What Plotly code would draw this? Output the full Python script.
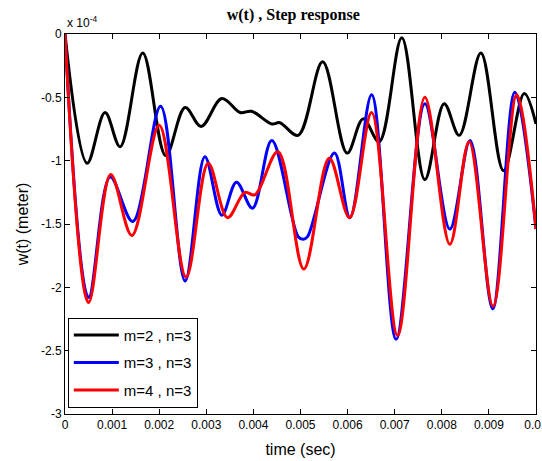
import plotly.graph_objects as go

# time in ms (converted to seconds below); values in units of 1e-4 m
t_m2 = [0, 0.47, 0.85, 1.17, 1.65, 2.14, 2.55, 2.89, 3.33, 3.72, 3.96, 4.39, 4.56, 4.95,
        5.47, 5.99, 6.33, 6.67, 7.15, 7.64, 8.05, 8.37, 8.83, 9.31, 9.75, 10.0]
w_m2 = [0, -1.02, -0.62, -0.89, -0.15, -0.96, -0.58, -0.73, -0.51, -0.62, -0.61, -0.71, -0.70, -0.80,
        -0.22, -0.94, -0.67, -0.85, -0.03, -1.15, -0.55, -0.80, -0.15, -1.08, -0.47, -0.71]

t_m3 = [0, 0.50, 0.96, 1.44, 2.03, 2.55, 2.97, 3.33, 3.64, 3.98, 4.39, 4.95, 5.06, 5.15,
        5.72, 6.05, 6.51, 7.03, 7.64, 8.17, 8.60, 9.08, 9.55, 10.0]
w_m3 = [0, -2.08, -1.13, -1.48, -0.57, -1.95, -0.97, -1.43, -1.17, -1.375, -0.84, -1.60, -1.62, -1.60,
        -0.94, -1.45, -0.48, -2.41, -0.55, -1.54, -0.84, -2.17, -0.46, -1.54]

t_m4 = [0, 0.50, 0.97, 1.42, 2.00, 2.57, 3.04, 3.45, 3.82, 4.03, 4.52, 5.07, 5.61, 6.04,
        6.51, 7.06, 7.64, 8.17, 8.58, 9.09, 9.59, 10.0]
w_m4 = [0, -2.12, -1.11, -1.59, -0.72, -1.92, -1.02, -1.45, -1.25, -1.27, -0.93, -1.855, -0.98, -1.45,
        -0.62, -2.38, -0.50, -1.66, -0.85, -2.15, -0.48, -1.54]

x_ticks = [0, 0.001, 0.002, 0.003, 0.004, 0.005, 0.006, 0.007, 0.008, 0.009, 0.01]
x_labels = ["0", "0.001", "0.002", "0.003", "0.004", "0.005", "0.006", "0.007", "0.008", "0.009", "0.01"]
y_ticks = [0, -0.5, -1, -1.5, -2, -2.5, -3]
y_labels = ["0", "-0.5", "-1", "-1.5", "-2", "-2.5", "-3"]

series = [
    ("m=2 , n=3", t_m2, w_m2, "#000000"),
    ("m=3 , n=3", t_m3, w_m3, "#0000ff"),
    ("m=4 , n=3", t_m4, w_m4, "#ff0000"),
]

fig = go.Figure()
for i, (name, t, w, c) in enumerate(series):
    fig.add_trace(go.Scatter(
        x=[v / 1000 for v in t], y=w, mode="lines", name=name, legendgroup=f"g{i}",
        line=dict(color=c, width=3, shape="spline", smoothing=1.0),
    ))

axis_common = dict(
    showgrid=False, zeroline=False, showline=True, linecolor="black", linewidth=1,
    mirror="ticks", ticks="inside", ticklen=5, tickcolor="black",
    tickfont=dict(family="Liberation Sans, Arial", size=12, color="black"),
    ticklabeloverflow="allow", automargin=False,
)

fig.update_layout(
    width=542, height=461,
    margin=dict(l=65, r=6, t=34, b=47),
    paper_bgcolor="white", plot_bgcolor="white",
    xaxis=dict(range=[0, 0.01], tickvals=x_ticks, ticktext=x_labels,
               title=dict(text="time (sec)", font=dict(family="Liberation Sans, Arial", size=16, color="black"),
                          standoff=12),
               **axis_common),
    yaxis=dict(range=[-3, 0], tickvals=y_ticks, ticktext=y_labels,
               title=dict(text="w(t) (meter)", font=dict(family="Liberation Sans, Arial", size=16, color="black"),
                          standoff=8),
               **axis_common),
    title=dict(text="<b>w(t) , Step response</b>", x=0.541, xanchor="center", y=0.968, yanchor="middle",
               font=dict(family="Liberation Serif, Times New Roman", size=16, color="black")),
    legend=dict(x=0.006, y=0.253, xanchor="left", yanchor="top",
                bgcolor="white", bordercolor="black", borderwidth=1,
                font=dict(family="Liberation Sans, Arial", size=15, color="black"),
                traceorder="grouped", tracegroupgap=5, itemwidth=45),
    showlegend=True,
)

fig.add_annotation(xref="paper", yref="paper", x=0.0, y=1.0, xanchor="left", yanchor="bottom",
                   yshift=2, showarrow=False, text="x 10<sup>-4</sup>",
                   font=dict(family="Liberation Sans, Arial", size=12, color="black"))

fig.write_html("out.html")
